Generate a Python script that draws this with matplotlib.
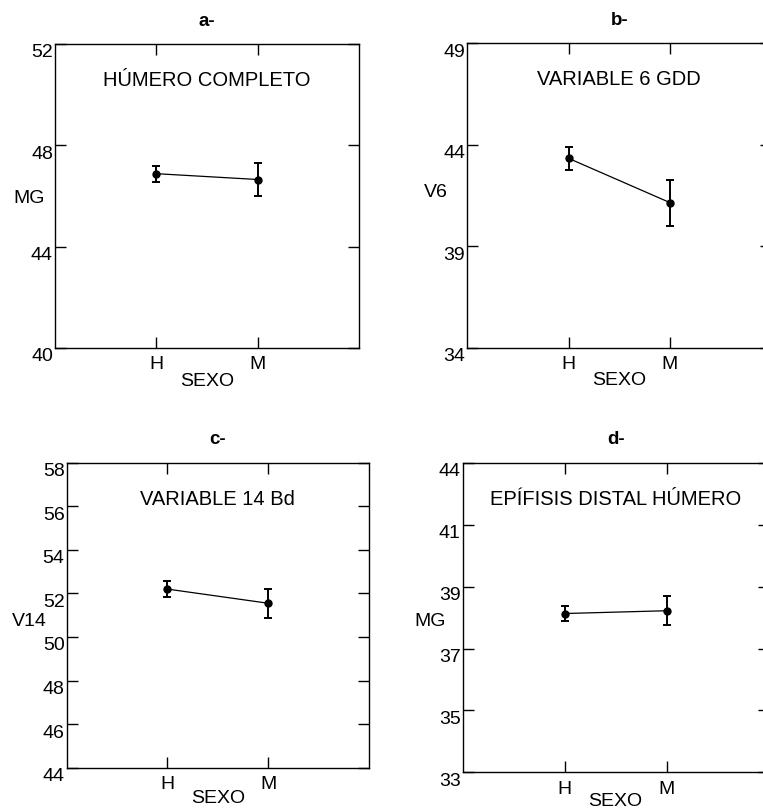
import numpy as np
import matplotlib
matplotlib.use('Agg')
import matplotlib.pyplot as plt
from matplotlib.transforms import ScaledTranslation

plt.rcParams['font.family'] = ['Liberation Sans', 'DejaVu Sans']

# data: mean and half error bar for H and M
sexo = ['H', 'M']

mean_a = [46.88, 46.65]
err_a = [0.32, 0.66]
mean_b = [43.33, 41.15]
err_b = [0.56, 1.13]
mean_c = [52.20, 51.55]
err_c = [0.35, 0.67]
mean_d = [38.13, 38.22]
err_d = [0.24, 0.47]

yticks_a = [40, 44, 48, 52]
yticks_b = [34, 39, 44, 49]
yticks_c = [44, 46, 48, 50, 52, 54, 56, 58]
yticks_d = [33, 35, 37, 39, 41, 43]
ylabels_d = ['33', '35', '37', '39', '41', '44']

panels = [
  dict(pos=[0.0721, 0.5704, 0.3984, 0.3753], tag='a-', text='HÚMERO COMPLETO',
       ylab='MG', mean=mean_a, err=err_a, yticks=yticks_a, ylabels=None,
       ylabx=-0.085, ylaby=0.493, xlaby=-0.111),
  dict(pos=[0.6125, 0.5707, 0.3984, 0.3758], tag='b-', text='VARIABLE 6 GDD',
       ylab='V6', mean=mean_b, err=err_b, yticks=yticks_b, ylabels=None,
       ylabx=-0.103, ylaby=0.51, xlaby=-0.109),
  dict(pos=[0.0874, 0.0522, 0.3962, 0.3765], tag='c-', text='VARIABLE 14 Bd',
       ylab='V14', mean=mean_c, err=err_c, yticks=yticks_c, ylabels=None,
       ylabx=-0.125, ylaby=0.48, xlaby=-0.10),
  dict(pos=[0.6064, 0.0465, 0.4010, 0.3822], tag='d-', text='EPÍFISIS DISTAL HÚMERO',
       ylab='MG', mean=mean_d, err=err_d, yticks=yticks_d, ylabels=ylabels_d,
       ylabx=-0.107, ylaby=0.486, xlaby=-0.095),
]

fig = plt.figure(figsize=(7.63, 8.10), dpi=100)

for p in panels:
  ax = fig.add_axes(p['pos'])
  x = np.arange(1, len(sexo) + 1)
  ax.plot(x, p['mean'], 'k-', lw=0.9)
  ax.errorbar(x, p['mean'], yerr=p['err'], fmt='o', color='k', ms=5,
              elinewidth=1.4, capsize=3, capthick=1.4)

  # Set x axis (Sexo)
  ax.set_xlim(0, 3)
  ax.set_xticks(x)
  ax.set_xticklabels(sexo)

  # Set y axis
  ax.set_ylim(p['yticks'][0], p['yticks'][-1])
  ax.set_yticks(p['yticks'])
  if p['ylabels']:
    ax.set_yticklabels(p['ylabels'])

  ax.tick_params(direction='in', length=8, width=1, top=True, right=True,
                 labelsize=14, pad=1.5)
  ax.tick_params(axis='x', pad=6)
  shift = ScaledTranslation(0, -5 / 72, fig.dpi_scale_trans)
  for lab in ax.get_yticklabels():
    lab.set_transform(lab.get_transform() + shift)
  for sp in ax.spines.values():
    sp.set_linewidth(1.0)

  ax.set_xlabel('SEXO', fontsize=14)
  ax.xaxis.set_label_coords(0.5, p['xlaby'])
  ax.xaxis.label.set_va('center')
  ax.set_ylabel(p['ylab'], fontsize=14, rotation=0, ha='center', va='center')
  ax.yaxis.set_label_coords(p['ylabx'], p['ylaby'])

  ax.text(0.5, 0.88, p['text'], transform=ax.transAxes, ha='center',
          va='center', fontsize=14.5)
  ax.text(0.5, 1.075, p['tag'], transform=ax.transAxes, ha='center',
          va='center', fontsize=13.5, fontweight='bold')

plt.savefig('out.png', dpi=100)
